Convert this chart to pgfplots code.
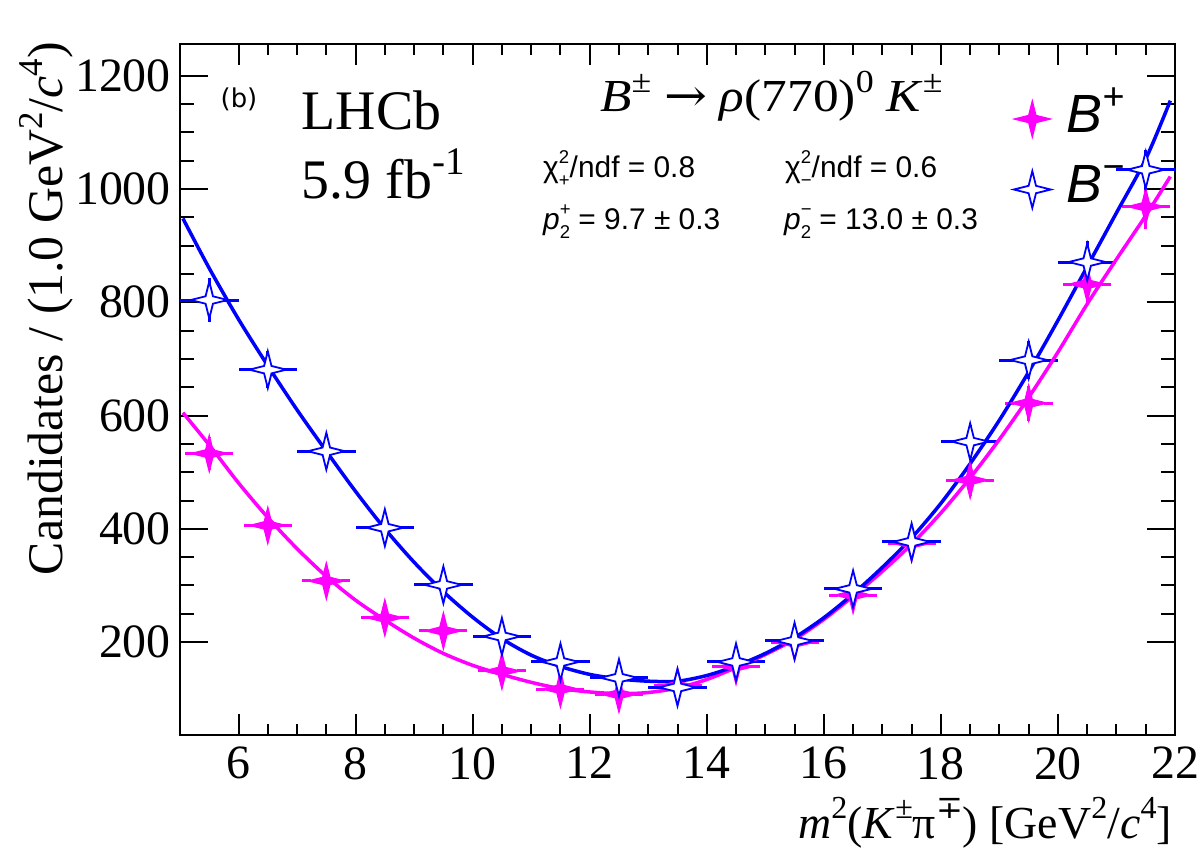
\documentclass[border=0pt]{standalone}
\usepackage{fontspec}
\setmainfont{Liberation Serif}
\newfontfamily\helv{Liberation Sans}
\newfontfamily\dejavu{DejaVu Sans}
\newfontfamily\djserif{DejaVu Serif}
\usepackage{graphicx}
\usepackage{pgfplots}
\usepackage{pgfplotstable}
\pgfplotsset{compat=1.18}
\definecolor{mag}{RGB}{255,0,255}
\definecolor{blu}{RGB}{0,0,255}

\pgfdeclareplotmark{fstar}{%
 \pgfpathmoveto{\pgfqpoint{0pt}{\pgfplotmarksize}}%
 \pgfpathlineto{\pgfqpoint{0.2\pgfplotmarksize}{0.2\pgfplotmarksize}}%
 \pgfpathlineto{\pgfqpoint{\pgfplotmarksize}{0pt}}%
 \pgfpathlineto{\pgfqpoint{0.2\pgfplotmarksize}{-0.2\pgfplotmarksize}}%
 \pgfpathlineto{\pgfqpoint{0pt}{-\pgfplotmarksize}}%
 \pgfpathlineto{\pgfqpoint{-0.2\pgfplotmarksize}{-0.2\pgfplotmarksize}}%
 \pgfpathlineto{\pgfqpoint{-\pgfplotmarksize}{0pt}}%
 \pgfpathlineto{\pgfqpoint{-0.2\pgfplotmarksize}{0.2\pgfplotmarksize}}%
 \pgfpathclose
 \pgfusepathqfillstroke}

\pgfplotstableread{
x y e
5.5 533 30
6.5 406 26
7.5 308 23
8.5 243 20
9.5 220 19
10.5 149 16
11.5 117 14
12.5 108 13
13.5 123 14
14.5 157 16
15.5 199 18
16.5 283 21
17.5 374 24
18.5 486 27
19.5 622 31
20.5 832 36
21.5 969 40
}\bplus

\pgfplotstableread{
x y e
5.5 804 38
6.5 681 33
7.5 537 30
8.5 402 26
9.5 301 22
10.5 210 19
11.5 165 17
12.5 137 15
13.5 120 14
14.5 165 16
15.5 202 18
16.5 294 22
17.5 377 24
18.5 554 29
19.5 698 33
20.5 871 37
21.5 1034 35
}\bminus

% raised, reduced superscript in the current font
\newcommand{\su}[1]{\raisebox{0.42em}{\scalebox{0.7}{#1}}}
\newcommand{\supsub}[2]{\makebox[0pt][l]{\raisebox{0.5em}{\scalebox{0.62}{#1}}}\raisebox{-0.3em}{\scalebox{0.62}{#2}}}

\begin{document}
\begin{tikzpicture}
\useasboundingbox (-180bp,-130bp) rectangle (1020bp,735bp);
\begin{axis}[
  scale only axis, width=995bp, height=691bp,
  xmin=5, xmax=22, ymin=36, ymax=1256,
  xtick={6,8,...,22}, ytick={200,400,...,1200},
  minor x tick num=3, minor y tick num=3,
  tick align=inside,
  major tick length=28bp, minor tick length=14bp,
  xtick style={/pgfplots/major tick length=21bp,/pgfplots/minor tick length=11bp},
  axis line style={line width=2bp},
  tick style={black, line width=2bp},
  tick label style={font=\fontsize{48}{48}\selectfont},
  /pgf/number format/assume math mode=true,
  /pgf/number format/1000 sep={},
  yticklabel style={inner sep=0pt, xshift=-9bp},
  xticklabel style={inner sep=0pt, yshift=-12bp},
  legend style={draw=none, fill=none, at={(0.838,0.9305)}, anchor=north west,
    font=\helv\itshape\fontsize{54}{54}\selectfont, row sep=25bp, column sep=16bp,
    inner sep=0pt, outer sep=0pt,
    nodes={inner sep=0pt, text height=40bp, text depth=0bp}},
  legend image code/.code={\path[draw=none, fill=none] (-18bp,-18bp) rectangle (18bp,18bp);
    \draw[#1, yshift=-7bp] plot coordinates {(0bp,0bp)};},
  legend cell align=left,
]
\addplot[only marks, mark=fstar, mark size=18.5bp, color=mag,
  mark options={fill=mag, draw=mag, line width=1bp, solid},
  error bars/.cd, x dir=both, x fixed=0.5, y dir=both, y explicit,
  error mark=none, error bar style={line width=3bp, dash pattern=on 9bp off 6bp}]
  table[x=x, y=y, y error=e] {\bplus};
\addlegendentry{B\su{+}}
\addplot[only marks, mark=fstar, mark size=18.5bp, color=blu,
  mark options={fill=white, draw=blu, line width=1.8bp, solid},
  error bars/.cd, x dir=both, x fixed=0.5, y dir=both, y explicit,
  error mark=none, error bar style={line width=3bp, solid}]
  table[x=x, y=y, y error=e] {\bminus};
\addlegendentry{B\su{−}}
\addplot[mag, line width=3.5bp, smooth, forget plot] coordinates {
(5.05,605) (5.5,548) (6.0,481) (6.5,420) (7.0,365) (7.5,316) (8.0,274) (8.5,239)
(9.0,207) (9.5,180) (10.0,159) (10.5,143) (11.0,129) (11.5,118) (12.0,112) (12.5,109)
(13.0,111) (13.5,119) (14.0,134) (14.5,155) (15.0,178) (15.5,205) (16.0,240) (16.5,281)
(17.0,325) (17.5,373) (18.0,428) (18.5,490) (19.0,558) (19.5,632) (20.0,712) (20.5,797)
(21.0,876) (21.5,953) (21.92,1022)};
\addplot[blu, line width=3.5bp, smooth, forget plot] coordinates {
(5.05,948) (5.5,860) (6.0,770) (6.5,688) (7.0,610) (7.5,537) (8.0,466) (8.5,400)
(9.0,341) (9.5,289) (10.0,244) (10.5,206) (11.0,177) (11.5,157) (12.0,143) (12.5,135)
(13.0,131) (13.5,131) (14.0,141) (14.5,158) (15.0,180) (15.5,208) (16.0,243) (16.5,285)
(17.0,332) (17.5,384) (18.0,445) (18.5,515) (19.0,592) (19.5,677) (20.0,768) (20.5,863)
(21.0,958) (21.5,1053) (21.92,1156)};
\end{axis}
% labels
\node[rotate=90, anchor=base east, inner sep=0pt, font=\fontsize{50}{50}\selectfont]
  at (-117bp,693bp) {Candidates / (1.0 GeV\su{2}/\textit{c}\su{4})};
\node[anchor=base east, inner sep=0pt, font=\fontsize{46}{46}\selectfont]
  at (992bp,-103bp) {\textit{m}\su{2}(\textit{K}\su{±}π\su{\djserif ∓}) [GeV\su{2}/\textit{c}\su{4}]};
\node[inner sep=0pt, font=\dejavu\fontsize{26}{26}\selectfont] at (59bp,636bp) {(b)};
\node[anchor=base west, inner sep=0pt, font=\fontsize{56}{56}\selectfont] at (121.7bp,605bp) {LHCb};
\node[anchor=base west, inner sep=0pt, font=\fontsize{56}{56}\selectfont] at (121.7bp,536.7bp) {5.9 fb\su{-1}};
\node[anchor=base west, inner sep=0pt, font=\fontsize{46}{46}\selectfont] at (420bp,623bp)
  {\scalebox{1.12}[1]{\textit{B}\su{±} {\djserif →} \textit{ρ}(770)\su{0} \textit{K}\su{±}}};
\node[anchor=base west, inner sep=0pt, font=\helv\fontsize{30}{30}\selectfont] at (363bp,557bp)
  {χ\supsub{2}{+}/ndf = 0.8};
\node[anchor=base west, inner sep=0pt, font=\helv\fontsize{30}{30}\selectfont] at (605bp,557bp)
  {χ\supsub{2}{−}/ndf = 0.6};
\node[anchor=base west, inner sep=0pt, font=\helv\fontsize{30}{30}\selectfont] at (363bp,505bp)
  {\textit{p}\supsub{+}{2} = 9.7 ± 0.3};
\node[anchor=base west, inner sep=0pt, font=\helv\fontsize{30}{30}\selectfont] at (604bp,505bp)
  {\textit{p}\supsub{−}{2} = 13.0 ± 0.3};
\end{tikzpicture}
\end{document}
